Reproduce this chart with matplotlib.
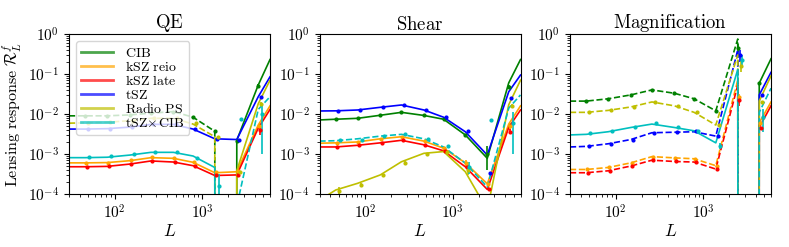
import numpy as np
import matplotlib
matplotlib.use('Agg')
import matplotlib.pyplot as plt
from matplotlib.lines import Line2D
from matplotlib.ticker import FuncFormatter

plt.rcParams['mathtext.fontset'] = 'cm'
plt.rcParams['font.family'] = 'serif'

#### L grid of the model curves and of the binned points ####
L_model = [30, 46, 82, 149, 260, 470, 790, 1400, 2500, 4400, 6000]
L_bins = [46, 82, 149, 260, 470, 790, 1400, 2500, 4400]

names = [r'$\mathrm{CIB}$', r'$\mathrm{kSZ\ reio}$', r'$\mathrm{kSZ\ late}$',
         r'$\mathrm{tSZ}$', r'$\mathrm{Radio\ PS}$', r'$\mathrm{tSZ}\!\times\!\mathrm{CIB}$']
colors = ['g', 'orange', 'r', 'b', 'y', 'c']
titles = ['QE', 'Shear', 'Magnification']

#### QE (signed model, negative -> dashed) ####
qe_cib = [-9e-3, -9e-3, -9e-3, -9.5e-3, -1.05e-2, -1.15e-2, -8.3e-3, -3.7e-3, 2.2e-3, 5.3e-2, 0.23]
qe_kszr = [6e-4, 6e-4, 6.1e-4, 6.8e-4, 8.1e-4, 7.8e-4, 6.2e-4, 3.4e-4, 3.6e-4, 5.3e-3, 1.6e-2]
qe_kszl = [4.8e-4, 4.8e-4, 4.9e-4, 5.6e-4, 6.7e-4, 6.3e-4, 5.1e-4, 2.9e-4, 3e-4, 4.4e-3, 1.3e-2]
qe_tsz = [4.2e-3, 4.2e-3, 4.3e-3, 4.7e-3, 5.5e-3, 5.5e-3, 4.2e-3, 2.4e-3, 2.3e-3, 2.7e-2, 8.5e-2]
qe_radio = [-5.9e-3, -6e-3, -6.2e-3, -6.8e-3, -7.8e-3, -7.8e-3, -5.6e-3, -2.7e-3, 3.8e-4, 1.8e-2, 7e-2]
qe_cross = [8.1e-4, 8.1e-4, 8.3e-4, 9.4e-4, 1.1e-3, 1.1e-3, 8.9e-4, 4.6e-4, -5e-5, -1.3e-2, -2.7e-2]

qe_cib_pts = [9e-3, 9e-3, 9.5e-3, 1.05e-2, 1.15e-2, 8.3e-3, 3.7e-3, 2.1e-3, 5e-2]
qe_kszr_pts = [6e-4, 6.1e-4, 6.9e-4, 8.2e-4, 8e-4, 6.2e-4, 3.5e-4, 3.8e-4, 5e-3]
qe_kszl_pts = [4.8e-4, 4.9e-4, 5.5e-4, 6.6e-4, 6.4e-4, 5.1e-4, 3e-4, 3e-4, 4e-3]
qe_tsz_pts = [4.2e-3, 4.3e-3, 4.7e-3, 5.6e-3, 5.6e-3, 4.3e-3, 2.4e-3, 2.2e-3, 2.6e-2]
qe_radio_pts = [6e-3, 6.2e-3, 6.8e-3, 7.8e-3, 7.8e-3, 5.8e-3, 2.7e-3, 3.6e-4, 1.8e-2]
qe_cross_pts = [8.6e-4, 8.9e-4, 1e-3, 1.15e-3, 1.1e-3, 7.8e-4, 1.6e-4, 7.5e-3, 1e-2]

qe_cib_err = [0, 0, 0, 0, 0, 0, 3e-4, 2e-4, 5e-3]
qe_kszr_err = [0, 0, 0, 0, 0, 0, 0, 0, 6e-4]
qe_kszl_err = [0, 0, 0, 0, 0, 0, 0, 0, 1e-3]
qe_tsz_err = [0, 0, 0, 0, 0, 0, 0, 0, 2e-3]
qe_radio_err = [0, 0, 0, 0, 0, 0, 0, 0, 2e-3]
qe_cross_err = [5e-5, 5e-5, 5e-5, 5e-5, 0, 0, 1.5e-4, 0, 9e-3]

#### Shear ####
sh_cib = [7.1e-3, 7.4e-3, 7.8e-3, 9.3e-3, 1.1e-2, 9.2e-3, 7.4e-3, 3e-3, 7.8e-4, 6e-2, 0.23]
sh_kszr = [1.86e-3, 1.9e-3, 2e-3, 2.4e-3, 2.7e-3, 2.1e-3, 1.4e-3, 6e-4, 1.8e-4, 5.6e-3, 1.6e-2]
sh_kszl = [1.5e-3, 1.5e-3, 1.65e-3, 1.9e-3, 2.2e-3, 1.7e-3, 1.2e-3, 4.8e-4, 1.3e-4, 4.6e-3, 1.26e-2]
sh_tsz = [1.19e-2, 1.2e-2, 1.26e-2, 1.47e-2, 1.68e-2, 1.26e-2, 8.3e-3, 3.6e-3, 9.4e-4, 3.6e-2, 9.4e-2]
sh_radio = [7e-5, 1.26e-4, 1.85e-4, 3e-4, 6.4e-4, 1.04e-3, 1.15e-3, 3.6e-4, 4e-5, 1.7e-2, 7e-2]
sh_cross = [-2.1e-3, -2.15e-3, -2.4e-3, -2.8e-3, -3.1e-3, -2.4e-3, -1.5e-3, -5.9e-4, -1.5e-4, -1.4e-2, -3e-2]

sh_cib_pts = [7.4e-3, 7.8e-3, 9.3e-3, 1.1e-2, 9.2e-3, 7.4e-3, 3e-3, 1e-3, 4.7e-2]
sh_kszr_pts = [1.9e-3, 2e-3, 2.4e-3, 2.7e-3, 2.1e-3, 1.4e-3, 6e-4, 1.8e-4, 5e-3]
sh_kszl_pts = [1.5e-3, 1.65e-3, 1.9e-3, 2.2e-3, 1.7e-3, 1.2e-3, 4.8e-4, 1.3e-4, 3.6e-3]
sh_tsz_pts = [1.2e-2, 1.26e-2, 1.47e-2, 1.68e-2, 1.26e-2, 8.5e-3, 3.7e-3, 3.4e-4, 2.5e-2]
sh_radio_pts = [1.2e-4, 1.7e-4, 3e-4, 6e-4, 1.02e-3, 1.15e-3, 4e-4, 5e-5, 1.6e-2]
sh_cross_pts = [2.3e-3, 2.3e-3, 2.8e-3, 3.1e-3, 2.4e-3, 1.6e-3, 4.7e-4, 7.2e-3, 6e-3]

sh_cib_err = [0, 0, 0, 0, 0, 0, 2e-4, 6e-4, 5e-3]
sh_kszr_err = [0, 0, 0, 0, 0, 0, 1e-4, 0, 1e-3]
sh_kszl_err = [0, 0, 0, 0, 0, 0, 0, 0, 5e-4]
sh_tsz_err = [0, 0, 0, 0, 0, 0, 0, 0, 0]
sh_radio_err = [3e-5, 2e-5, 0, 5e-5, 0, 0, 1e-4, 0, 2e-3]
sh_cross_err = [1e-4, 0, 0, 0, 0, 0, 1.5e-4, 0, 5e-3]

#### Magnification ####
mg_cib = [-2.1e-2, -2.1e-2, -2.4e-2, -3e-2, -4e-2, -3.3e-2, -2.4e-2, -1.2e-2, -0.75, 5.9e-2, 0.24]
mg_kszr = [-4.1e-4, -4.1e-4, -4.6e-4, -6e-4, -8.6e-4, -8e-4, -7.6e-4, -5.1e-4, -7e-2, 6e-3, 2e-2]
mg_kszl = [-3.4e-4, -3.4e-4, -3.8e-4, -5e-4, -7e-4, -6.5e-4, -6.3e-4, -4.2e-4, -5.3e-2, 4.6e-3, 1.6e-2]
mg_tsz = [-1.5e-3, -1.55e-3, -1.8e-3, -2.3e-3, -3.4e-3, -3.5e-3, -3.6e-3, -2.8e-3, -0.4, 3e-2, 0.11]
mg_radio = [-1.1e-2, -1.1e-2, -1.23e-2, -1.5e-2, -2e-2, -1.6e-2, -1.1e-2, -5.3e-3, -0.3, 2.1e-2, 9e-2]
mg_cross = [3e-3, 3.1e-3, 3.6e-3, 4.6e-3, 5.6e-3, 4.6e-3, 3.8e-3, 1.9e-3, 0.13, -1.1e-2, -4.4e-2]

mg_cib_pts = [2.1e-2, 2.4e-2, 3e-2, 4e-2, 3.3e-2, 2.4e-2, 1.2e-2, 0.45, 5.9e-2]
mg_kszr_pts = [4.1e-4, 4.6e-4, 6e-4, 8.6e-4, 8e-4, 7.6e-4, 5.1e-4, 2.7e-2, 6e-3]
mg_kszl_pts = [3.4e-4, 3.8e-4, 5e-4, 7e-4, 6.5e-4, 6.3e-4, 4.2e-4, 2.2e-2, 4.5e-3]
mg_tsz_pts = [1.55e-3, 1.8e-3, 2.3e-3, 3.4e-3, 3.5e-3, 3.7e-3, 2.8e-3, 0.3, 3e-2]
mg_radio_pts = [1.1e-2, 1.23e-2, 1.5e-2, 2e-2, 1.6e-2, 1.1e-2, 5.3e-3, 0.16, 2e-2]
mg_cross_pts = [3.4e-3, 3.7e-3, 4.8e-3, 5.8e-3, 4.7e-3, 3.7e-3, 1.6e-3, 0.22, 8.5e-3]

mg_cib_err = [0, 0, 0, 0, 0, 0, 0, 0.1, 0]
mg_kszr_err = [0, 0, 0, 0, 0, 0, 0, 5e-3, 0]
mg_kszl_err = [0, 0, 0, 0, 0, 0, 0, 6e-3, 0]
mg_tsz_err = [0, 0, 0, 0, 0, 0, 0, 0.1, 0]
mg_radio_err = [0, 0, 0, 0, 0, 0, 0, 0.05, 0]
mg_cross_err = [0, 0, 0, 0, 0, 0, 3e-4, 0.08, 5e-3]

panels = [
    ([qe_cib, qe_kszr, qe_kszl, qe_tsz, qe_radio, qe_cross],
     [qe_cib_pts, qe_kszr_pts, qe_kszl_pts, qe_tsz_pts, qe_radio_pts, qe_cross_pts],
     [qe_cib_err, qe_kszr_err, qe_kszl_err, qe_tsz_err, qe_radio_err, qe_cross_err]),
    ([sh_cib, sh_kszr, sh_kszl, sh_tsz, sh_radio, sh_cross],
     [sh_cib_pts, sh_kszr_pts, sh_kszl_pts, sh_tsz_pts, sh_radio_pts, sh_cross_pts],
     [sh_cib_err, sh_kszr_err, sh_kszl_err, sh_tsz_err, sh_radio_err, sh_cross_err]),
    ([mg_cib, mg_kszr, mg_kszl, mg_tsz, mg_radio, mg_cross],
     [mg_cib_pts, mg_kszr_pts, mg_kszl_pts, mg_tsz_pts, mg_radio_pts, mg_cross_pts],
     [mg_cib_err, mg_kszr_err, mg_kszl_err, mg_tsz_err, mg_radio_err, mg_cross_err]),
]


def draw(ax, model, pts, err, col, k):
    m = np.array(model)
    pos = np.where(m > 0, m, 0.)
    neg = np.where(m < 0, -m, 0.)
    if pos.any():
        ax.plot(L_model, pos, color=col, lw=1.2)
    if neg.any():
        ax.plot(L_model, neg, color=col, lw=1.2, ls='--')
    x = np.array(L_bins) * 10**(0.009*k)
    ax.errorbar(x, pts, yerr=err, fmt='o', ms=2, color=col, elinewidth=1.2, capsize=0)


fig = plt.figure(figsize=(7.89, 2.47), dpi=100)
lefts = [69, 319.5, 570]
fmt = FuncFormatter(lambda v, p: r'$10^{%d}$' % int(round(np.log10(v))))

for i, (models, pts, errs) in enumerate(panels):
    ax = fig.add_axes([lefts[i]/789, 53/247, 201/789, 160/247])
    ax.set_xscale('log')
    ax.set_yscale('log')
    ax.set_xlim(30, 6000)
    ax.set_ylim(1e-4, 1)
    for k in range(6):
        draw(ax, models[k], pts[k], errs[k], colors[k], k)
    ax.xaxis.set_major_formatter(fmt)
    ax.yaxis.set_major_formatter(fmt)
    ax.tick_params(labelsize=11)
    ax.set_title(r'$\mathrm{%s}$' % titles[i], fontsize=13.5, pad=3)
    ax.set_xlabel(r'$L$', fontsize=12.5, labelpad=1)
    if i == 0:
        ax.set_ylabel(r'$\mathrm{Lensing\ response}\ \mathcal{R}^f_L$', fontsize=11.5, labelpad=2)
        handles = [Line2D([], [], color=c, lw=2, alpha=0.7) for c in colors]
        ax.legend(handles, names, loc='upper left', fontsize=10, labelspacing=0.0,
                  handlelength=2.3, handletextpad=0.9, borderaxespad=0.5, borderpad=0.35)

plt.savefig('out.png', dpi=100)
